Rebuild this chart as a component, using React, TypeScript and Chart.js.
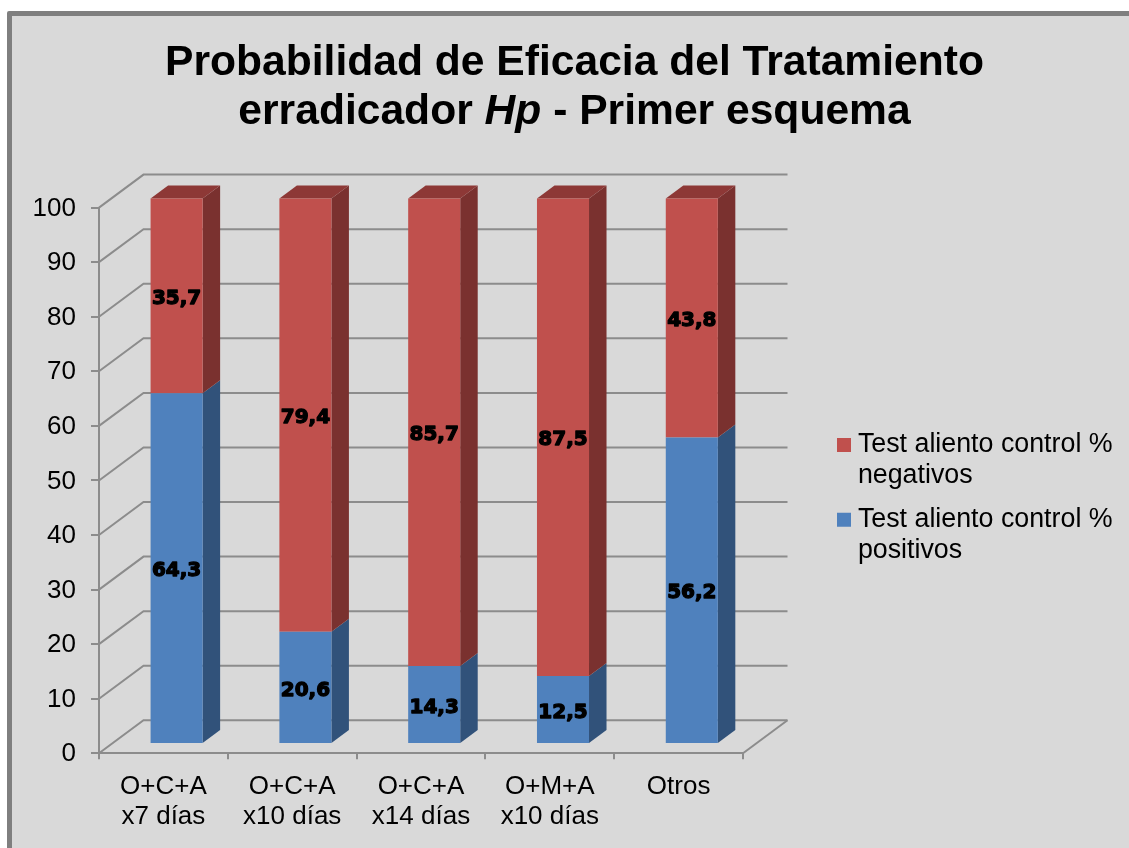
import React, { useEffect, useRef } from "react";
import { Chart, registerables } from "chart.js";

Chart.register(...registerables);

const categories = [
  ["O+C+A", "x7 días"],
  ["O+C+A", "x10 días"],
  ["O+C+A", "x14 días"],
  ["O+M+A", "x10 días"],
  ["Otros"],
];
const positivos = [64.3, 20.6, 14.3, 12.5, 56.2];
const negativos = [35.7, 79.4, 85.7, 87.5, 43.8];
const positivosLabel = ["Test aliento control %", "positivos"];
const negativosLabel = ["Test aliento control %", "negativos"];
const titleLine1 = "Probabilidad de Eficacia del Tratamiento";
const titleLine2 = [
  { text: "erradicador ", italic: false },
  { text: "Hp", italic: true },
  { text: " - Primer esquema", italic: false },
];

const FONT = '"Liberation Sans", Arial, sans-serif';
const GRID = "#8c8c8c";
const BLUE = "#4f81bd";
const RED = "#c0504d";
const SIDE = ["#31527a", "#7a312f"];
const TOP = "#8d3836";

const WALL_DX = 44.5;
const WALL_DY = -33;
const BAR_DX = 13.2;
const BAR_DY = -9.2;
const DEPTH_DX = 17.5;
const DEPTH_DY = -13;

const wallPlugin = {
  id: "wall3d",
  beforeDatasetsDraw(chart: any) {
    const { ctx, chartArea: a, scales } = chart;
    ctx.save();
    ctx.strokeStyle = GRID;
    ctx.lineWidth = 2;
    for (const t of scales.y.ticks) {
      const y = scales.y.getPixelForValue(t.value);
      ctx.beginPath();
      ctx.moveTo(a.left, y);
      ctx.lineTo(a.left + WALL_DX, y + WALL_DY);
      ctx.lineTo(a.right + WALL_DX, y + WALL_DY);
      ctx.stroke();
    }
    ctx.beginPath();
    ctx.moveTo(a.right, a.bottom);
    ctx.lineTo(a.right + WALL_DX, a.bottom + WALL_DY);
    ctx.stroke();
    ctx.restore();

    // depth faces of each bar, then the front faces shifted by the library's draw
    ctx.save();
    ctx.translate(BAR_DX, BAR_DY);
    chart.data.datasets.forEach((_: any, di: number) => {
      chart.getDatasetMeta(di).data.forEach((bar: any) => {
        const { x, y, base, width } = bar.getProps(["x", "y", "base", "width"], true);
        const r = x + width / 2;
        ctx.fillStyle = SIDE[di];
        ctx.beginPath();
        ctx.moveTo(r, y);
        ctx.lineTo(r + DEPTH_DX, y + DEPTH_DY);
        ctx.lineTo(r + DEPTH_DX, base + DEPTH_DY);
        ctx.lineTo(r, base);
        ctx.closePath();
        ctx.fill();
        if (di === chart.data.datasets.length - 1) {
          ctx.fillStyle = TOP;
          ctx.beginPath();
          ctx.moveTo(x - width / 2, y);
          ctx.lineTo(x - width / 2 + DEPTH_DX, y + DEPTH_DY);
          ctx.lineTo(r + DEPTH_DX, y + DEPTH_DY);
          ctx.lineTo(r, y);
          ctx.closePath();
          ctx.fill();
        }
      });
    });
    ctx.restore();

    ctx.save();
    ctx.translate(BAR_DX, BAR_DY);
  },
  afterDatasetsDraw(chart: any) {
    const { ctx } = chart;
    ctx.restore();
    ctx.save();
    ctx.translate(BAR_DX, BAR_DY);
    ctx.font = 'bold 20px "DejaVu Sans", sans-serif';
    ctx.textAlign = "center";
    ctx.textBaseline = "middle";
    ctx.fillStyle = "#000";
    ctx.strokeStyle = "#000";
    ctx.lineWidth = 1.3;
    ctx.lineJoin = "round";
    chart.data.datasets.forEach((ds: any, di: number) => {
      chart.getDatasetMeta(di).data.forEach((bar: any, i: number) => {
        const { x, y, base } = bar.getProps(["x", "y", "base"], true);
        const s = ds.data[i].toFixed(1).replace(".", ",");
        const my = (y + base) / 2 + 3;
        ctx.strokeText(s, x, my);
        ctx.fillText(s, x, my);
      });
    });
    ctx.restore();
  },
};

const titlePlugin = {
  id: "title2",
  afterDraw(chart: any) {
    const { ctx } = chart;
    const cx = 574.5;
    ctx.save();
    ctx.fillStyle = "#000";
    ctx.textBaseline = "alphabetic";
    ctx.textAlign = "left";
    ctx.font = `bold 42.6px ${FONT}`;
    ctx.fillText(titleLine1, cx - ctx.measureText(titleLine1).width / 2, 75);
    const fonts = titleLine2.map((s) => `${s.italic ? "italic " : ""}bold 42.6px ${FONT}`);
    let total = 0;
    titleLine2.forEach((s, i) => {
      ctx.font = fonts[i];
      total += ctx.measureText(s.text).width;
    });
    let x = cx - total / 2;
    titleLine2.forEach((s, i) => {
      ctx.font = fonts[i];
      ctx.fillText(s.text, x, 124);
      x += ctx.measureText(s.text).width;
    });
    ctx.restore();
  },
};

const legendPlacePlugin = {
  id: "legendPlace",
  afterLayout(chart: any) {
    const l = chart.legend;
    l.left = 830.5;
    l.right = 1129;
    l.top = 418.5;
    l.bottom = 640;
  },
};

export default function App() {
  const ref = useRef<HTMLCanvasElement | null>(null);
  useEffect(() => {
    document.body.style.margin = "0";
    const chart = new Chart(ref.current as HTMLCanvasElement, {
      type: "bar",
      data: {
        labels: categories,
        datasets: [
          {
            label: positivosLabel as any,
            data: positivos,
            backgroundColor: BLUE,
            clip: false as any,
          },
          {
            label: negativosLabel as any,
            data: negativos,
            backgroundColor: RED,
            clip: false as any,
          },
        ],
      },
      options: {
        responsive: false,
        animation: false,
        layout: { padding: { top: 207.6, right: 106, left: 0, bottom: 0 } },
        datasets: { bar: { barPercentage: 0.404, categoryPercentage: 1 } },
        plugins: {
          title: { display: false },
          tooltip: { enabled: false },
          legend: {
            display: true,
            position: "right",
            align: "start",
            maxWidth: 280,
            labels: {
              color: "#000",
              font: { family: FONT, size: 26.8, lineHeight: 1.155 },
              boxWidth: 1,
              boxHeight: 1,
              padding: 13,
              generateLabels: () => [
                { text: negativosLabel, fillStyle: RED, strokeStyle: RED, lineWidth: 13, datasetIndex: 1 },
                { text: positivosLabel, fillStyle: BLUE, strokeStyle: BLUE, lineWidth: 13, datasetIndex: 0 },
              ] as any,
            },
          },
        },
        scales: {
          x: {
            stacked: true,
            grid: { drawOnChartArea: false, drawTicks: true, tickLength: 6, color: GRID, lineWidth: 2 },
            border: { color: GRID, width: 2 },
            ticks: {
              color: "#000",
              maxRotation: 0,
              autoSkip: false,
              padding: 12,
              font: { family: FONT, size: 26, lineHeight: 1.16 },
            },
            afterFit: (s: any) => {
              s.height = 94.7;
            },
          },
          y: {
            stacked: true,
            min: 0,
            max: 100,
            grid: { drawOnChartArea: false, drawTicks: true, tickLength: 8, color: GRID, lineWidth: 2 },
            border: { color: GRID, width: 2 },
            ticks: {
              stepSize: 10,
              color: "#000",
              padding: 15,
              labelOffset: 1,
              font: { family: FONT, size: 26 },
            },
            afterFit: (s: any) => {
              s.width = 99;
            },
          },
        },
      },
      plugins: [wallPlugin, titlePlugin, legendPlacePlugin],
    } as any);
    return () => chart.destroy();
  }, []);

  return (
    <div style={{ position: "fixed", inset: 0, background: "#fff", overflow: "hidden" }}>
      <div
        style={{
          position: "absolute",
          left: 7,
          top: 11,
          width: 1200,
          height: 900,
          boxSizing: "border-box",
          border: "5px solid #7f7f7f",
          borderRadius: 2,
          background: "#d9d9d9",
        }}
      />
      <canvas
        ref={ref}
        width={1129}
        height={848}
        style={{ position: "absolute", left: 0, top: 0, width: 1129, height: 848 }}
      />
    </div>
  );
}
